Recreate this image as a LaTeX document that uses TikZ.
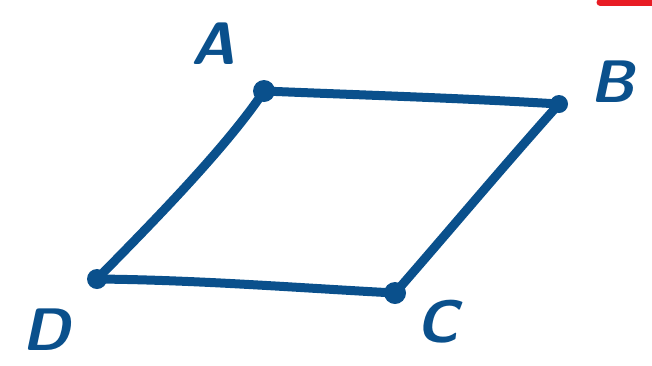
\documentclass[tikz,border=0pt]{standalone}
\begin{document}
\begin{tikzpicture}[x=1pt,y=-1pt,
  ink/.style={draw=inkblue,line width=9pt,line cap=round,line join=round},
  blob/.style={circle,fill=inkblue,inner sep=0pt,minimum size=22pt},
  lbl/.style={text=inkblue,inner sep=0pt,font=\fontsize{60}{62}\selectfont\sffamily\bfseries\slshape}]
\definecolor{inkblue}{RGB}{10,80,140}
\definecolor{inkred}{RGB}{232,28,36}
\useasboundingbox (0,0) rectangle (652,365);
\fill[white] (0,0) rectangle (652,365);
\coordinate (A) at (264,91);
\coordinate (B) at (559,104);
\coordinate (C) at (395,293);
\coordinate (D) at (97,279);
\draw[ink] (A) .. controls (360,95) and (460,98) .. (B);
\draw[ink] (B) .. controls (500,170) and (450,230) .. (C);
\draw[ink] (C) .. controls (300,288) and (200,280) .. (D);
\draw[ink] (D) .. controls (140,235) and (225,150) .. (A);
\node[blob] (bA) at (A) {};
\node[blob,minimum size=18pt] (bB) at (B) {};
\node[blob] (bC) at (C) {};
\node[blob,minimum size=20pt] (bD) at (D) {};
\node[lbl] (lA) at (213,44) {A};
\node[lbl] (lB) at (612,82) {B};
\node[lbl] (lC) at (438,322) {C};
\node[lbl] (lD) at (46,330) {D};
\coordinate (r1) at (600,2);
\coordinate (r2) at (652,2);
\draw[draw=inkred,line width=7pt,line cap=round] (r1) -- (r2);
\end{tikzpicture}
\end{document}
